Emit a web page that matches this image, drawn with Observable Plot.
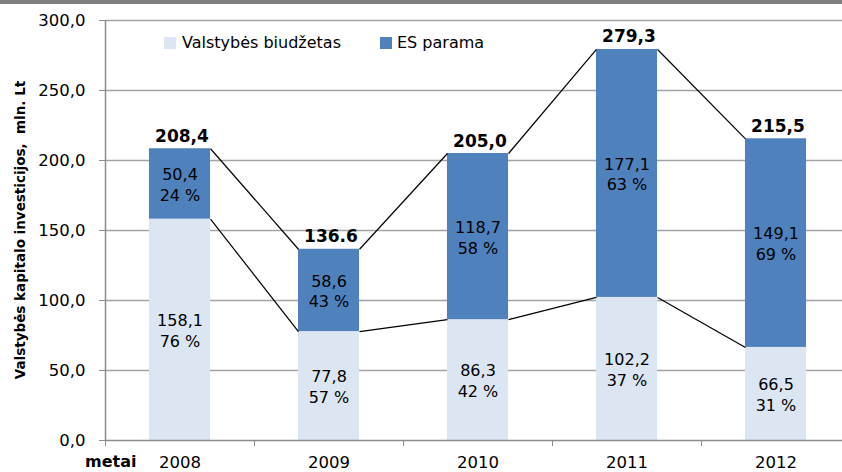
<!DOCTYPE html>
<html><head><meta charset="utf-8">
<script src="https://cdn.jsdelivr.net/npm/d3@7"></script>
<script src="https://cdn.jsdelivr.net/npm/@observablehq/plot@0.6"></script>
<style>
body{margin:0;background:#fff;}
#wrap{position:relative;width:842px;height:472px;overflow:hidden;font-family:"DejaVu Sans",sans-serif;color:#000;}
#topbar{position:absolute;left:0;top:0;width:842px;height:4px;background:#7f7f7f;z-index:2;}
#chart{position:absolute;left:0;top:0;}
.leg{position:absolute;top:34px;font-size:16px;line-height:18px;white-space:nowrap;}
.sw{position:absolute;width:12px;height:12px;}
#ylab{position:absolute;left:20px;top:230px;transform:translate(-50%,-50%) rotate(-90deg);font-size:13.5px;font-weight:bold;white-space:nowrap;}
#xlab{position:absolute;left:85px;top:454px;font-size:16px;line-height:16px;font-weight:bold;}
</style></head>
<body><div id="wrap"><div id="topbar"></div><div id="chart"></div>
<div class="sw" style="left:164px;top:37px;background:#dce6f2"></div><div class="leg" style="left:182px">Valstybės biudžetas</div>
<div class="sw" style="left:380px;top:37px;background:#4f81bd"></div><div class="leg" style="left:397px">ES parama</div>
<div id="ylab">Valstybės kapitalo investicijos,&nbsp; mln. Lt</div>
<div id="xlab">metai</div>
</div>
<script>
const years = [2008, 2009, 2010, 2011, 2012];
const budget = [158.1, 77.8, 86.3, 102.2, 66.5];
const eu = [50.4, 58.6, 118.7, 177.1, 149.1];
const totals = [208.4, 136.6, 205.0, 279.3, 215.5];
const totalLabels = ["208,4", "136.6", "205,0", "279,3", "215,5"];
const budgetLabels = ["158,1", "77,8", "86,3", "102,2", "66,5"];
const euLabels = ["50,4", "58,6", "118,7", "177,1", "149,1"];
const budgetPct = [76, 57, 42, 37, 31];
const euPct = [24, 43, 58, 63, 69];
const yTicks = [0, 50, 100, 150, 200, 250, 300];
const yTickLabels = ["0,0", "50,0", "100,0", "150,0", "200,0", "250,0", "300,0"];
const boundaries = [2007.5, 2008.5, 2009.5, 2010.5, 2011.5];

const HALF = 0.205;
const LIGHT = "#dce6f2", DARK = "#4f81bd";

const segs = [];
years.forEach((yr, i) => {
  segs.push({year: yr, y1: 0, y2: budget[i], fill: LIGHT, label: budgetLabels[i] + "\n" + budgetPct[i] + " %"});
  segs.push({year: yr, y1: budget[i], y2: totals[i], fill: DARK, label: euLabels[i] + "\n" + euPct[i] + " %"});
});
const linksTop = [], linksMid = [];
for (let i = 0; i < years.length - 1; i++) {
  linksTop.push({x1: years[i] + HALF, x2: years[i + 1] - HALF, y1: totals[i], y2: totals[i + 1]});
  linksMid.push({x1: years[i] + HALF, x2: years[i + 1] - HALF, y1: budget[i], y2: budget[i + 1]});
}
const tots = years.map((yr, i) => ({year: yr, v: totals[i], t: totalLabels[i]}));

const plot = Plot.plot({
  width: 842, height: 472,
  marginLeft: 105, marginRight: 0, marginTop: 20, marginBottom: 32,
  style: {fontFamily: "DejaVu Sans", fontSize: "16px", background: "transparent", color: "#000"},
  x: {type: "linear", domain: [2007.5, 2012.5], range: [105, 850]},
  y: {domain: [0, 300], range: [440, 20]},
  marks: [
    Plot.ruleY(yTicks.slice(1), {x1: 2007.5, x2: 2012.5, stroke: "#a3a3a3", strokeWidth: 1.5}),
    Plot.rectY(segs, {x1: d => d.year - HALF, x2: d => d.year + HALF, y1: "y1", y2: "y2", fill: "fill"}),
    Plot.link(linksTop, {x1: "x1", x2: "x2", y1: "y1", y2: "y2", stroke: "#000", strokeWidth: 1.2}),
    Plot.link(linksMid, {x1: "x1", x2: "x2", y1: "y1", y2: "y2", stroke: "#000", strokeWidth: 1.2}),
    Plot.text(segs, {x: "year", y: d => (d.y1 + d.y2) / 2, text: "label", fontSize: 16, lineHeight: 1.3, fill: "#000"}),
    Plot.text(tots, {x: "year", y: "v", text: "t", fontSize: 17, fontWeight: "bold", lineAnchor: "bottom", dy: -7, dx: 2, fill: "#000"}),
    Plot.ruleX([2007.5], {y1: 0, y2: 300, stroke: "#8c8c8c", strokeWidth: 1.5}),
    Plot.ruleY([0], {x1: 2007.5, x2: 2012.5, stroke: "#8c8c8c", strokeWidth: 1.5}),
    Plot.axisY({ticks: yTicks, tickFormat: (d) => yTickLabels[yTicks.indexOf(d)], tickSize: 6, tickPadding: 14, stroke: "#8c8c8c", fill: "#000", fontSize: 16.5, label: null}),
    Plot.axisX({ticks: boundaries, tickFormat: () => "", tickSize: 6, stroke: "#8c8c8c", label: null}),
    Plot.axisX({ticks: years, tickFormat: d => String(d), tickSize: 0, tickPadding: 16, fill: "#000", fontSize: 16.5, label: null})
  ]
});
document.getElementById("chart").appendChild(plot);
</script>
</body></html>
